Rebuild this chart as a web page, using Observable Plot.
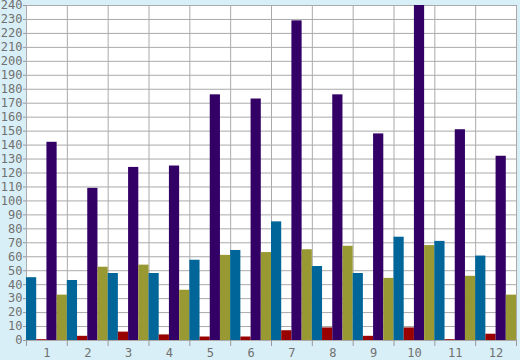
<!DOCTYPE html>
<html>
<head>
<meta charset="utf-8">
<script src="https://cdn.jsdelivr.net/npm/d3@7"></script>
<script src="https://cdn.jsdelivr.net/npm/@observablehq/plot@0.6"></script>
<style>
  html, body { margin: 0; padding: 0; background: #d9eff7; }
  #chart { width: 520px; height: 360px; }
</style>
</head>
<body>
<div id="chart"></div>
<script>
const groups = [1, 2, 3, 4, 5, 6, 7, 8, 9, 10, 11, 12];
const seriesNames = ["A", "B", "C", "D"];
const seriesColors = ["#006699", "#990000", "#330066", "#999933"];
const seriesA = [45, 43, 48, 48, 57.5, 64.5, 85, 53, 48, 74, 71, 60.5];
const seriesB = [0.6, 3, 6, 4, 2.5, 2.5, 7, 9, 3, 9, 0.6, 4.5];
const seriesC = [142, 109, 124, 125, 176, 173, 229, 176, 148, 240, 151, 132];
const seriesD = [32.5, 52.5, 54, 36, 61, 63, 65, 67.5, 44.5, 68, 46, 32.5];
const yTicks = d3.range(0, 241, 10);

const seriesValues = [seriesA, seriesB, seriesC, seriesD];
const rows = [];
groups.forEach((g, gi) => {
  seriesValues.forEach((vals, si) => {
    rows.push({group: g, series: seriesNames[si], si, value: vals[gi]});
  });
});
const n = seriesNames.length;
const boundaries = [groups[0] - 0.5, ...groups.map(g => g + 0.5)];

const font = "DejaVu Sans Mono, monospace";
const chart = Plot.plot({
  width: 520,
  height: 360,
  marginLeft: 26,
  marginRight: 4,
  marginTop: 5,
  marginBottom: 20,
  style: {background: "transparent", fontFamily: font, fontSize: "12px", color: "#707070"},
  x: {domain: [groups[0] - 0.5, groups[groups.length - 1] + 0.5], axis: null},
  y: {domain: [0, 240], axis: null},
  color: {domain: seriesNames, range: seriesColors},
  marks: [
    Plot.frame({fill: "white", stroke: null}),
    Plot.gridY({ticks: yTicks, stroke: "#aaaaaa", strokeOpacity: 1}),
    Plot.gridX({ticks: boundaries, stroke: "#aaaaaa", strokeOpacity: 1}),
    Plot.rectY(rows, {
      x1: d => d.group - 0.5 + d.si / n,
      x2: d => d.group - 0.5 + (d.si + 1) / n,
      y1: 0,
      y2: "value",
      fill: "series",
      clip: true
    }),
    Plot.axisY({ticks: yTicks, tickSize: 3, tickPadding: 1, stroke: "#999", fill: "#707070", label: null}),
    Plot.axisX({ticks: groups, tickSize: 0, tickPadding: 8, fill: "#707070", label: null}),
    Plot.axisX({ticks: boundaries, tickSize: 6, tickFormat: () => "", stroke: "#999", label: null})
  ]
});
document.getElementById("chart").appendChild(chart);
</script>
</body>
</html>
